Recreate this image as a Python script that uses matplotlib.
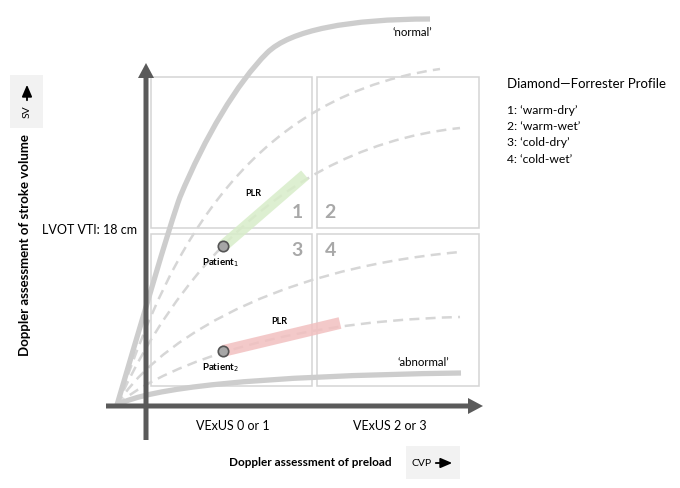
import matplotlib
matplotlib.use("Agg")
import matplotlib.pyplot as plt
from matplotlib.path import Path
from matplotlib.patches import PathPatch, Rectangle, FancyArrow

plt.rcParams['font.family'] = ['Lato', 'DejaVu Sans']

# curve control points (pixel space of the original drawing)
normal_curve = [(117, 405), (138, 334), (170, 224), (180, 197),
                (205, 137), (237, 83), (267, 53),
                (290, 30), (350, 19), (430, 19)]
abnormal_curve = [(117, 405), (150, 388), (250, 376), (461, 373)]
dashed_curves = [
    [(117, 405), (155, 300), (220, 100), (440, 69)],
    [(117, 405), (150, 330), (250, 150), (460, 128)],
    [(117, 405), (150, 350), (260, 270), (460, 252)],
    [(117, 405), (150, 375), (260, 322), (460, 317)],
]

# patients and PLR responses
patients = ['Patient$_1$', 'Patient$_2$']
patient_pts = [(223, 246), (223, 351)]
plr_ends = [(305, 175), (340, 323)]
plr_colors = ['#d8edc9', '#f2c0c0']

quadrant_labels = ['1', '2', '3', '4']
profile_title = 'Diamond\u2014Forrester Profile'
profile_items = ["1: \u2018warm-dry\u2019", "2: \u2018warm-wet\u2019",
                 "3: \u2018cold-dry\u2019", "4: \u2018cold-wet\u2019"]

fig = plt.figure(figsize=(6.8, 4.88), dpi=100)
ax = fig.add_axes([0, 0, 1, 1])
ax.set_xlim(0, 680)
ax.set_ylim(488, 0)
ax.axis('off')


def bezier(points, **kw):
    codes = [Path.MOVETO] + [Path.CURVE4] * (len(points) - 1)
    ax.add_patch(PathPatch(Path(points, codes), fill=False, **kw))


# quadrant boxes
boxes = [(151, 77, 161, 151), (317, 77, 162, 151),
         (151, 234, 161, 152), (317, 234, 162, 152)]
for (bx, by, bw, bh) in boxes:
    ax.add_patch(Rectangle((bx, by), bw, bh, fill=False,
                           edgecolor='#d4d4d4', lw=1.1, zorder=1))

# curves
for c in dashed_curves:
    bezier(c, edgecolor='#d6d6d6', lw=1.8, linestyle=(0, (4, 2.5)),
           capstyle='butt', zorder=2)
bezier(normal_curve, edgecolor='#cdcdcd', lw=3.8, zorder=3)
bezier(abnormal_curve, edgecolor='#cdcdcd', lw=3.8, zorder=3)

# PLR bands
for (p, e, col) in zip(patient_pts, plr_ends, plr_colors):
    ax.plot([p[0], e[0]], [p[1], e[1]], color=col, lw=8.5,
            alpha=0.85, solid_capstyle='butt', zorder=4)
ax.text(253, 193, 'PLR', fontsize=6.5, fontweight='bold', ha='center', va='center', zorder=6)
ax.text(279, 321, 'PLR', fontsize=6.5, fontweight='bold', ha='center', va='center', zorder=6)

# patients
for name, (px, py) in zip(patients, patient_pts):
    ax.plot(px, py, 'o', ms=7.5, mfc='#a6a6a6', mec='#555555', mew=1.2, zorder=7)
    ax.text(px - 2, py + 17, name, fontsize=7, fontweight='bold', ha='center', va='center', zorder=7)

# quadrant numbers
num_pos = [(297, 212), (330, 212), (297, 250), (331, 250)]
for lab, (nx, ny) in zip(quadrant_labels, num_pos):
    ax.text(nx, ny, lab, fontsize=14, fontweight='bold', color='#a8a8a8',
            ha='center', va='center', zorder=5)

# axes arrows
axis_col = '#5a5a5a'
ax.add_patch(FancyArrow(146, 440, 0, -377, width=5, head_width=16, head_length=15,
                        length_includes_head=True, color=axis_col, lw=0, zorder=8))
ax.add_patch(FancyArrow(106, 406, 377, 0, width=5, head_width=16, head_length=15,
                        length_includes_head=True, color=axis_col, lw=0, zorder=8))

# curve labels
ax.text(412, 33, '\u2018normal\u2019', fontsize=8.3, ha='center', va='center')
ax.text(423, 363, '\u2018abnormal\u2019', fontsize=8.3, ha='center', va='center')
ax.text(137, 230, 'LVOT VTI: 18 cm', fontsize=9, ha='right', va='center')

# x-axis annotations
ax.text(233, 426, 'VExUS 0 or 1', fontsize=9, ha='center', va='center')
ax.text(390, 426, 'VExUS 2 or 3', fontsize=9, ha='center', va='center')
ax.text(310, 463, 'Doppler assessment of preload', fontsize=8.5, fontweight='bold',
        ha='center', va='center')
ax.add_patch(Rectangle((406, 446), 54, 33, facecolor='#f2f2f2', edgecolor='none'))
ax.text(411, 463, 'CVP', fontsize=7.5, ha='left', va='center')
ax.annotate('', xy=(455, 463), xytext=(433, 463),
            arrowprops=dict(arrowstyle='-|>,head_length=0.7,head_width=0.3',
                            color='black', lw=1.3))

# y-axis annotations
ax.text(25, 245, 'Doppler assessment of stroke volume', fontsize=9.5, fontweight='bold',
        rotation=90, ha='center', va='center')
ax.add_patch(Rectangle((10, 75), 33, 53, facecolor='#f2f2f2', edgecolor='none'))
ax.text(27, 112, 'SV', fontsize=7.5, rotation=90, ha='center', va='center')
ax.annotate('', xy=(27, 82), xytext=(27, 103),
            arrowprops=dict(arrowstyle='-|>,head_length=0.7,head_width=0.3',
                            color='black', lw=1.3))

# profile legend
ax.text(507, 84, profile_title, fontsize=9.5, ha='left', va='center')
for i, item in enumerate(profile_items):
    ax.text(507, 110 + i * 16.5, item, fontsize=8.7, ha='left', va='center')

fig.savefig('out.png', dpi=100)
